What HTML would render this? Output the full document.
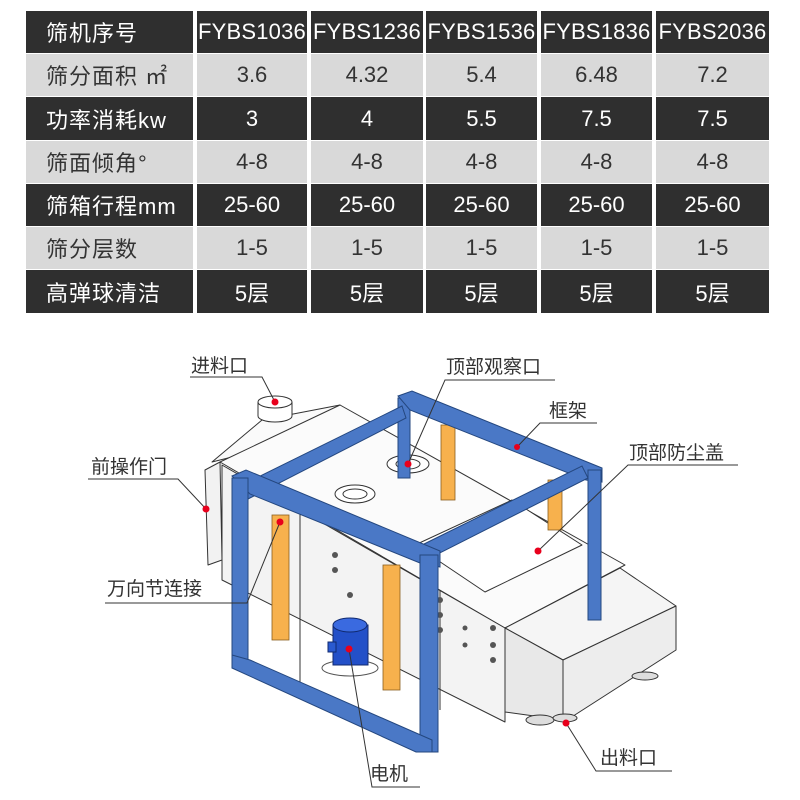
<!DOCTYPE html>
<html><head><meta charset="utf-8"><style>
html,body{margin:0;padding:0;background:#fff;}
body{width:800px;height:800px;position:relative;overflow:hidden;font-family:"Liberation Sans","Noto Sans CJK SC",sans-serif;}
.c{position:absolute;display:flex;align-items:center;justify-content:center;font-size:22px;box-sizing:border-box;}
.d{background:#2f2f2f;color:#fff;}
.l{background:#d9d9d9;color:#333;}
.h{justify-content:flex-start;padding-left:18px;}
</style></head><body>
<div id="t"></div>
<script>
const cols=[[26,193],[197,307],[311,423],[426,537],[541,652],[656,769]];
const rows=[
["筛机序号","FYBS1036","FYBS1236","FYBS1536","FYBS1836","FYBS2036"],
["筛分面积 ㎡","3.6","4.32","5.4","6.48","7.2"],
["功率消耗kw","3","4","5.5","7.5","7.5"],
["筛面倾角°","4-8","4-8","4-8","4-8","4-8"],
["筛箱行程mm","25-60","25-60","25-60","25-60","25-60"],
["筛分层数","1-5","1-5","1-5","1-5","1-5"],
["高弹球清洁","5层","5层","5层","5层","5层"]];
const ys=[11,54,97,141,184,227,270,314];
let h="";
rows.forEach((r,i)=>{r.forEach((txt,j)=>{
 const cls=(i%2==0?"d":"l")+(j==0?" h":"");
 let fs=(i==0&&j>0)?"font-size:22px;letter-spacing:0.2px;":"";
 if(j==0) fs+="padding-left:20px;letter-spacing:1px;";
 h+=`<div class="c ${cls}" style="left:${cols[j][0]}px;top:${ys[i]}px;width:${cols[j][1]-cols[j][0]}px;height:${ys[i+1]-ys[i]-1}px;${fs}">${txt}</div>`;
});});
document.getElementById("t").innerHTML=h;
</script>
<svg width="800" height="800" style="position:absolute;left:0;top:0" xmlns="http://www.w3.org/2000/svg">
<g stroke="#333" stroke-width="1" fill="#fff" stroke-linejoin="round">
<polygon points="212,462 262,420 340,405 300,440" fill="#fafafa"/>
<polygon points="205,470 220,462 222,560 208,565" fill="#f2f2f2"/>
<polygon points="220,462 340,405 625,565 505,628" fill="#fbfbfb"/>
<polygon points="222,465 505,628 505,722 222,580" fill="#f3f3f3"/>
<line x1="300" y1="510" x2="300" y2="690"/>
<line x1="440" y1="590" x2="440" y2="710"/>
<polygon points="415,545 512,500 582,545 485,592" fill="#fff"/>
<polygon points="505,628 620,568 676,606 563,660" fill="#f5f5f5"/>
<polygon points="563,660 676,606 676,650 567,720 563,720" fill="#ededed"/>
<polygon points="505,628 563,660 563,720 505,712" fill="#e8e8e8"/>
<ellipse cx="540" cy="720" rx="14" ry="5" fill="#ddd"/>
<ellipse cx="565" cy="718" rx="12" ry="4" fill="#ddd"/>
<ellipse cx="645" cy="676" rx="13" ry="4" fill="#ddd"/>
<path d="M258,402 V416 A17,6 0 0 0 292,416 V402" fill="#fff"/>
<ellipse cx="275" cy="402" rx="17" ry="6" fill="#fff"/>
<ellipse cx="408" cy="464" rx="21" ry="9" fill="#fff"/>
<ellipse cx="408" cy="464" rx="12" ry="5" fill="#fff"/>
<ellipse cx="355" cy="494" rx="20" ry="9" fill="#fff"/>
<ellipse cx="355" cy="494" rx="12" ry="5" fill="#fff"/>
</g>
<g fill="#555">
<circle cx="335" cy="555" r="3"/><circle cx="335" cy="570" r="3"/><circle cx="350" cy="595" r="3"/>
<circle cx="440" cy="600" r="3"/><circle cx="440" cy="615" r="3"/><circle cx="440" cy="630" r="3"/>
<circle cx="493" cy="628" r="3"/><circle cx="493" cy="645" r="3"/><circle cx="493" cy="660" r="3"/>
<circle cx="465" cy="628" r="2.5"/><circle cx="465" cy="645" r="2.5"/>
</g>
<g fill="#f7b14d" stroke="#8a6020" stroke-width="0.8">
<rect x="441" y="425" width="14" height="75"/>
<rect x="548" y="480" width="14" height="50"/>
<rect x="272" y="515" width="17" height="125"/>
<rect x="383" y="565" width="17" height="125"/>
</g>
<g fill="#4a78c6" stroke="#24477f" stroke-width="1">
<rect x="398" y="398" width="12" height="80"/>
<polygon points="398,396 412,391 602,468 602,482 586,480 410,410"/>
<rect x="588" y="470" width="13" height="150"/>
<polygon points="240,486 402,406 406,418 246,500"/>
<polygon points="420,546 582,466 588,478 426,560"/>
<polygon points="232,476 246,470 440,551 440,567 420,563 250,494"/>
<rect x="232" y="478" width="16" height="190"/>
<rect x="420" y="555" width="18" height="197"/>
<polygon points="232,655 250,660 432,740 432,752 416,752 232,668"/>
</g>
<ellipse cx="350" cy="668" rx="28" ry="8" fill="#fff" stroke="#555"/>
<rect x="333" y="625" width="35" height="40" fill="#2350c8" stroke="#102a70"/>
<ellipse cx="350" cy="625" rx="17" ry="7" fill="#3a6ae0" stroke="#102a70"/>
<rect x="328" y="642" width="8" height="10" fill="#2a5ad0" stroke="#102a70"/>
<g stroke="#333" stroke-width="1" fill="none">
<polyline points="190,377 262,377 275,402"/>
<polyline points="555,380 445,380 408,464"/>
<polyline points="597,423 540,423 517,447"/>
<polyline points="738,465 628,465 538,551"/>
<polyline points="88,479 178,479 206,509"/>
<polyline points="105,603 247,603 280,522"/>
<polyline points="420,787 372,787 349,649"/>
<polyline points="672,771 596,771 566,723"/>
</g>
<g fill="#e8001c">
<circle cx="275" cy="402" r="3.5"/><circle cx="408" cy="464" r="3.5"/><circle cx="517" cy="447" r="3"/>
<circle cx="538" cy="551" r="3.5"/><circle cx="206" cy="509" r="3.5"/><circle cx="280" cy="522" r="3.5"/>
<circle cx="349" cy="649" r="3.5"/><circle cx="566" cy="723" r="3.5"/>
</g>
<g font-family="Liberation Sans, Noto Sans CJK SC, sans-serif" font-size="19" fill="#333">
<text x="191" y="372">进料口</text>
<text x="446" y="373">顶部观察口</text>
<text x="549" y="417">框架</text>
<text x="629" y="459">顶部防尘盖</text>
<text x="91" y="473">前操作门</text>
<text x="107" y="595">万向节连接</text>
<text x="370" y="780">电机</text>
<text x="600" y="764">出料口</text>
</g>
</svg>
</body></html>
